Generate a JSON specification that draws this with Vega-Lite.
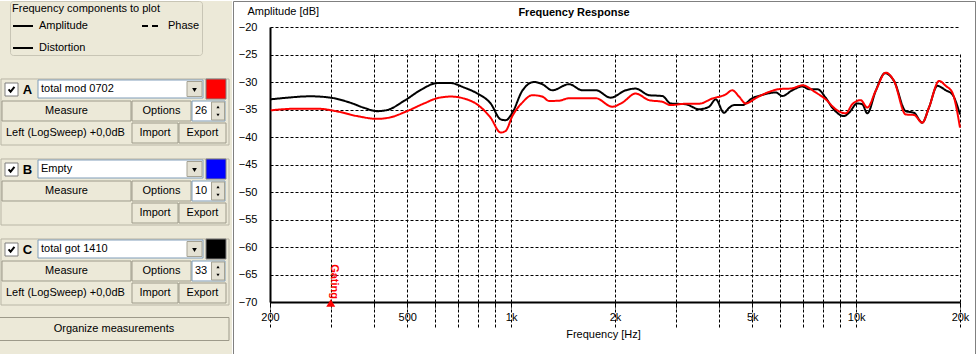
{
  "$schema": "https://vega.github.io/schema/vega-lite/v6.json",
  "padding": {"left": -3, "top": 0, "right": 0, "bottom": 0},
  "background": "#ffffff",
  "spacing": 0,
  "config": {
    "font": "Liberation Sans",
    "view": {"stroke": null},
    "text": {"font": "Liberation Sans", "fontSize": 11, "color": "#000000"}
  },
  "datasets": {
    "measurements": [
      {"id": "A", "name": "total mod 0702", "avg": "26", "channel": "Left (LogSweep) +0,0dB"},
      {"id": "B", "name": "Empty", "avg": "10", "channel": ""},
      {"id": "C", "name": "total got 1410", "avg": "33", "channel": "Left (LogSweep) +0,0dB"}
    ],
    "gating": [{"freq": 300, "db": -70, "label": "Gating"}],
    "curves": [
      {"id": "C", "freq": 201, "db": -33.15}, {"id": "C", "freq": 220, "db": -32.9}, {"id": "C", "freq": 262, "db": -32.6},
      {"id": "C", "freq": 300, "db": -32.85}, {"id": "C", "freq": 343, "db": -33.8}, {"id": "C", "freq": 375, "db": -34.7},
      {"id": "C", "freq": 409, "db": -35.3}, {"id": "C", "freq": 437, "db": -35.1}, {"id": "C", "freq": 489, "db": -33.45},
      {"id": "C", "freq": 547, "db": -31.45}, {"id": "C", "freq": 610, "db": -30.2}, {"id": "C", "freq": 668, "db": -30.2},
      {"id": "C", "freq": 730, "db": -31.0}, {"id": "C", "freq": 796, "db": -32.05}, {"id": "C", "freq": 872, "db": -33.9},
      {"id": "C", "freq": 933, "db": -36.8}, {"id": "C", "freq": 964, "db": -36.95}, {"id": "C", "freq": 1008, "db": -35.6},
      {"id": "C", "freq": 1077, "db": -31.6}, {"id": "C", "freq": 1165, "db": -30.0}, {"id": "C", "freq": 1231, "db": -30.4},
      {"id": "C", "freq": 1316, "db": -31.5}, {"id": "C", "freq": 1471, "db": -30.4}, {"id": "C", "freq": 1608, "db": -31.5},
      {"id": "C", "freq": 1759, "db": -31.5}, {"id": "C", "freq": 1943, "db": -32.85}, {"id": "C", "freq": 2148, "db": -31.5},
      {"id": "C", "freq": 2296, "db": -31.2}, {"id": "C", "freq": 2510, "db": -32.4}, {"id": "C", "freq": 2743, "db": -32.55},
      {"id": "C", "freq": 2900, "db": -33.9}, {"id": "C", "freq": 3206, "db": -34.05}, {"id": "C", "freq": 3504, "db": -34.95},
      {"id": "C", "freq": 3746, "db": -34.5}, {"id": "C", "freq": 3918, "db": -33.15}, {"id": "C", "freq": 4140, "db": -35.6},
      {"id": "C", "freq": 4281, "db": -34.7}, {"id": "C", "freq": 4425, "db": -34.2}, {"id": "C", "freq": 4678, "db": -34.2},
      {"id": "C", "freq": 5000, "db": -32.95}, {"id": "C", "freq": 5346, "db": -32.35}, {"id": "C", "freq": 5846, "db": -31.9},
      {"id": "C", "freq": 6109, "db": -32.55}, {"id": "C", "freq": 6530, "db": -31.5}, {"id": "C", "freq": 6982, "db": -30.8},
      {"id": "C", "freq": 7300, "db": -31.3}, {"id": "C", "freq": 7717, "db": -31.3}, {"id": "C", "freq": 8159, "db": -32.85},
      {"id": "C", "freq": 8528, "db": -34.65}, {"id": "C", "freq": 9222, "db": -36.2}, {"id": "C", "freq": 9534, "db": -35.6},
      {"id": "C", "freq": 10076, "db": -33.9}, {"id": "C", "freq": 10419, "db": -34.05}, {"id": "C", "freq": 10773, "db": -35.7},
      {"id": "C", "freq": 11396, "db": -31.6}, {"id": "C", "freq": 12123, "db": -28.4}, {"id": "C", "freq": 12874, "db": -29.8},
      {"id": "C", "freq": 13920, "db": -35.3}, {"id": "C", "freq": 14712, "db": -35.6}, {"id": "C", "freq": 15546, "db": -37.4},
      {"id": "C", "freq": 16258, "db": -34.65}, {"id": "C", "freq": 17192, "db": -30.7}, {"id": "C", "freq": 18183, "db": -31.5},
      {"id": "C", "freq": 18998, "db": -32.25}, {"id": "C", "freq": 20000, "db": -35.9},
      {"id": "A", "freq": 201, "db": -35.15}, {"id": "A", "freq": 240, "db": -34.85}, {"id": "A", "freq": 274, "db": -34.85},
      {"id": "A", "freq": 313, "db": -35.35}, {"id": "A", "freq": 358, "db": -36.2}, {"id": "A", "freq": 409, "db": -36.7},
      {"id": "A", "freq": 448, "db": -36.4}, {"id": "A", "freq": 499, "db": -35.3}, {"id": "A", "freq": 559, "db": -33.9},
      {"id": "A", "freq": 610, "db": -32.95}, {"id": "A", "freq": 668, "db": -32.65}, {"id": "A", "freq": 730, "db": -33.0},
      {"id": "A", "freq": 796, "db": -34.05}, {"id": "A", "freq": 872, "db": -36.5}, {"id": "A", "freq": 933, "db": -39.2},
      {"id": "A", "freq": 964, "db": -38.9}, {"id": "A", "freq": 1008, "db": -36.2}, {"id": "A", "freq": 1077, "db": -33.75},
      {"id": "A", "freq": 1152, "db": -32.4}, {"id": "A", "freq": 1231, "db": -32.65}, {"id": "A", "freq": 1288, "db": -33.45},
      {"id": "A", "freq": 1376, "db": -33.4}, {"id": "A", "freq": 1471, "db": -32.95}, {"id": "A", "freq": 1759, "db": -32.95},
      {"id": "A", "freq": 1964, "db": -34.5}, {"id": "A", "freq": 2100, "db": -33.75}, {"id": "A", "freq": 2296, "db": -32.1},
      {"id": "A", "freq": 2510, "db": -33.3}, {"id": "A", "freq": 2743, "db": -33.6}, {"id": "A", "freq": 2900, "db": -34.2},
      {"id": "A", "freq": 3206, "db": -33.95}, {"id": "A", "freq": 3504, "db": -33.95}, {"id": "A", "freq": 3829, "db": -33.0},
      {"id": "A", "freq": 4188, "db": -32.25}, {"id": "A", "freq": 4375, "db": -31.5}, {"id": "A", "freq": 4576, "db": -32.65},
      {"id": "A", "freq": 4785, "db": -33.9}, {"id": "A", "freq": 5114, "db": -32.95}, {"id": "A", "freq": 5468, "db": -32.05},
      {"id": "A", "freq": 5977, "db": -31.3}, {"id": "A", "freq": 6530, "db": -31.15}, {"id": "A", "freq": 6982, "db": -30.6},
      {"id": "A", "freq": 7634, "db": -31.9}, {"id": "A", "freq": 8159, "db": -33.15}, {"id": "A", "freq": 8724, "db": -34.95},
      {"id": "A", "freq": 9326, "db": -35.7}, {"id": "A", "freq": 9745, "db": -34.05}, {"id": "A", "freq": 10308, "db": -33.3},
      {"id": "A", "freq": 10773, "db": -34.65}, {"id": "A", "freq": 11396, "db": -31.6}, {"id": "A", "freq": 12180, "db": -28.3},
      {"id": "A", "freq": 12874, "db": -29.8}, {"id": "A", "freq": 13920, "db": -35.9}, {"id": "A", "freq": 14712, "db": -36.0},
      {"id": "A", "freq": 15546, "db": -37.4}, {"id": "A", "freq": 16258, "db": -34.65}, {"id": "A", "freq": 17390, "db": -29.8},
      {"id": "A", "freq": 18183, "db": -30.7}, {"id": "A", "freq": 18998, "db": -31.9}, {"id": "A", "freq": 20000, "db": -38.3}
    ]
  },
  "hconcat": [
    {
      "width": 233,
      "height": 354,
      "view": {"fill": "#ECE9D8", "stroke": null},
      "data": {"name": "measurements"},
      "layer": [
        {"mark": {"type": "point", "shape": "M-1,-0.2895H1V0.2895H-1Z", "size": 51984, "filled": false, "stroke": "#B9B6A6", "strokeWidth": 1, "opacity": 1, "xOffset": -0.5, "yOffset": 23},
         "encoding": {"y": {"field": "id", "type": "nominal", "scale": {"type": "point", "domain": ["A", "B", "C"], "range": [88, 248], "padding": 0}, "axis": null}}},
        {"mark": {"type": "point", "shape": "square", "size": 169, "filled": true, "fill": "#FFFFFF", "stroke": "#7F7F7F", "strokeWidth": 1, "opacity": 1, "xOffset": -104, "yOffset": 0.5},
         "encoding": {"y": {"field": "id", "type": "nominal", "axis": null}}},
        {"mark": {"type": "point", "shape": "M-0.65,-0.05L-0.2,0.5L0.65,-0.6", "size": 81, "filled": false, "stroke": "#000000", "strokeWidth": 2, "opacity": 1, "xOffset": -104, "yOffset": 0.5},
         "encoding": {"y": {"field": "id", "type": "nominal", "axis": null}}},
        {"mark": {"type": "text", "fontWeight": "bold", "fontSize": 13, "align": "center", "baseline": "middle", "dx": -88, "dy": 1},
         "encoding": {"y": {"field": "id", "type": "nominal", "axis": null}, "text": {"field": "id"}}},
        {"mark": {"type": "point", "shape": "M-1,-0.1091H1V0.1091H-1Z", "size": 27225, "filled": true, "fill": "#FFFFFF", "stroke": "#7F9DB9", "strokeWidth": 1, "opacity": 1, "xOffset": 5},
         "encoding": {"y": {"field": "id", "type": "nominal", "axis": null}}},
        {"mark": {"type": "text", "align": "left", "baseline": "middle", "dx": -74.5, "fontSize": 11},
         "encoding": {"y": {"field": "id", "type": "nominal", "axis": null}, "text": {"field": "name"}}},
        {"mark": {"type": "point", "shape": "square", "size": 225, "filled": true, "fill": "#E4E1D3", "stroke": "#A5A293", "strokeWidth": 1, "opacity": 1, "xOffset": 79},
         "encoding": {"y": {"field": "id", "type": "nominal", "axis": null}}},
        {"mark": {"type": "point", "shape": "triangle-down", "size": 22, "filled": true, "fill": "#000000", "opacity": 1, "xOffset": 79, "yOffset": 1},
         "encoding": {"y": {"field": "id", "type": "nominal", "axis": null}}},
        {"mark": {"type": "point", "shape": "square", "size": 400, "filled": true, "stroke": "#808080", "strokeWidth": 1, "opacity": 1, "xOffset": 100.5},
         "encoding": {"y": {"field": "id", "type": "nominal", "axis": null},
                      "color": {"field": "id", "type": "nominal", "scale": {"domain": ["A", "B", "C"], "range": ["#FF0000", "#0000FF", "#000000"]}, "legend": null}}},
        {"mark": {"type": "point", "shape": "M-1,-0.155H1V0.155H-1Z", "size": 16641, "filled": true, "fill": "#ECE9D8", "stroke": "#9D9A8A", "strokeWidth": 1, "opacity": 1, "xOffset": -49, "yOffset": 22},
         "encoding": {"y": {"field": "id", "type": "nominal", "axis": null}}},
        {"mark": {"type": "text", "text": "Measure", "align": "center", "baseline": "middle", "dx": -49, "dy": 22},
         "encoding": {"y": {"field": "id", "type": "nominal", "axis": null}}},
        {"mark": {"type": "point", "shape": "M-1,-0.339H1V0.339H-1Z", "size": 3481, "filled": true, "fill": "#ECE9D8", "stroke": "#9D9A8A", "strokeWidth": 1, "opacity": 1, "xOffset": 46, "yOffset": 22},
         "encoding": {"y": {"field": "id", "type": "nominal", "axis": null}}},
        {"mark": {"type": "text", "text": "Options", "align": "center", "baseline": "middle", "dx": 46, "dy": 22},
         "encoding": {"y": {"field": "id", "type": "nominal", "axis": null}}},
        {"mark": {"type": "point", "shape": "M-1,-0.606H1V0.606H-1Z", "size": 1089, "filled": true, "fill": "#FFFFFF", "stroke": "#7F9DB9", "strokeWidth": 1, "opacity": 1, "xOffset": 93, "yOffset": 22},
         "encoding": {"y": {"field": "id", "type": "nominal", "axis": null}}},
        {"mark": {"type": "text", "align": "left", "baseline": "middle", "dx": 79.5, "dy": 22},
         "encoding": {"y": {"field": "id", "type": "nominal", "axis": null}, "text": {"field": "avg"}}},
        {"mark": {"type": "point", "shape": "M-1,-1.385H1V1.385H-1Z", "size": 169, "filled": true, "fill": "#E4E1D3", "stroke": "#A5A293", "strokeWidth": 1, "opacity": 1, "xOffset": 102.5, "yOffset": 22},
         "encoding": {"y": {"field": "id", "type": "nominal", "axis": null}}},
        {"mark": {"type": "point", "shape": "triangle-up", "size": 10, "filled": true, "fill": "#000000", "opacity": 1, "xOffset": 102.5, "yOffset": 18},
         "encoding": {"y": {"field": "id", "type": "nominal", "axis": null}}},
        {"mark": {"type": "point", "shape": "triangle-down", "size": 10, "filled": true, "fill": "#000000", "opacity": 1, "xOffset": 102.5, "yOffset": 26},
         "encoding": {"y": {"field": "id", "type": "nominal", "axis": null}}},
        {"mark": {"type": "text", "align": "left", "baseline": "middle", "dx": -109.5, "dy": 44},
         "encoding": {"y": {"field": "id", "type": "nominal", "axis": null}, "text": {"field": "channel"}}},
        {"mark": {"type": "point", "shape": "M-1,-0.4348H1V0.4348H-1Z", "size": 2116, "filled": true, "fill": "#ECE9D8", "stroke": "#9D9A8A", "strokeWidth": 1, "opacity": 1, "xOffset": 39.5, "yOffset": 44},
         "encoding": {"y": {"field": "id", "type": "nominal", "axis": null}}},
        {"mark": {"type": "text", "text": "Import", "align": "center", "baseline": "middle", "dx": 39.5, "dy": 44},
         "encoding": {"y": {"field": "id", "type": "nominal", "axis": null}}},
        {"mark": {"type": "point", "shape": "M-1,-0.4255H1V0.4255H-1Z", "size": 2209, "filled": true, "fill": "#ECE9D8", "stroke": "#9D9A8A", "strokeWidth": 1, "opacity": 1, "xOffset": 87, "yOffset": 44},
         "encoding": {"y": {"field": "id", "type": "nominal", "axis": null}}},
        {"mark": {"type": "text", "text": "Export", "align": "center", "baseline": "middle", "dx": 87, "dy": 44},
         "encoding": {"y": {"field": "id", "type": "nominal", "axis": null}}},
        {"data": {"values": [{"action": "Organize measurements"}]},
         "mark": {"type": "point", "shape": "M-1,-0.1H1V0.1H-1Z", "size": 52900, "filled": true, "fill": "#ECE9D8", "stroke": "#9D9A8A", "strokeWidth": 1, "opacity": 1, "xOffset": -1.5, "yOffset": 151},
         "encoding": {}},
        {"data": {"values": [{"action": "Organize measurements"}]},
         "mark": {"type": "text", "align": "center", "baseline": "middle", "dx": -1.5, "dy": 151},
         "encoding": {"text": {"field": "action"}}}
      ]
    },
    {
      "width": 742,
      "height": 354,
      "view": {"fill": "#FFFFFF", "stroke": "#808080"},
      "title": {"text": "Frequency Response", "font": "Liberation Sans", "fontSize": 11, "fontWeight": "bold", "color": "#000000", "anchor": "middle", "frame": "group", "offset": -26, "baseline": "alphabetic", "dx": -30},
      "encoding": {
        "x": {"field": "freq", "type": "quantitative",
              "scale": {"type": "log", "domain": [200, 20000], "range": [37, 727], "nice": false},
              "axis": {"orient": "bottom", "offset": -53,
                       "values": [200, 300, 400, 500, 600, 700, 800, 900, 1000, 2000, 3000, 4000, 5000, 6000, 7000, 8000, 9000, 10000, 20000],
                       "labelExpr": "(datum.value == 200 || datum.value == 500) ? datum.value + '' : (datum.value == 1000 || datum.value == 2000 || datum.value == 5000 || datum.value == 10000 || datum.value == 20000) ? (datum.value / 1000) + 'k' : ''",
                       "grid": true, "gridDash": [3, 2], "gridColor": "#000000", "gridOpacity": 1, "gridWidth": 1,
                       "domain": true, "domainColor": "#000000", "domainWidth": 2,
                       "ticks": true, "tickSize": 6, "tickDash": [3, 2], "tickColor": "#000000", "tickWidth": 1,
                       "labelPadding": 3, "labelFont": "Liberation Sans", "labelFontSize": 11, "labelColor": "#000000", "labelFlush": false, "labelOverlap": false,
                       "title": "Frequency [Hz]", "titleX": 370, "titleY": 35, "titleBaseline": "alphabetic", "titleAlign": "center",
                       "titleFont": "Liberation Sans", "titleFontSize": 11, "titleFontWeight": "normal", "titleColor": "#000000"}},
        "y": {"field": "db", "type": "quantitative",
              "scale": {"domain": [-70, -20], "range": [301, 26], "nice": false, "zero": false},
              "axis": {"orient": "left", "offset": -37,
                       "values": [-70, -65, -60, -55, -50, -45, -40, -35, -30, -25, -20],
                       "grid": true, "gridDash": [3, 2], "gridColor": "#000000", "gridOpacity": 1, "gridWidth": 1,
                       "domain": true, "domainColor": "#000000", "domainWidth": 2,
                       "ticks": false, "labelPadding": 13,
                       "labelFont": "Liberation Sans", "labelFontSize": 11, "labelColor": "#000000", "labelFlush": false,
                       "title": "Amplitude [dB]", "titleAngle": 0, "titleAlign": "left", "titleBaseline": "alphabetic", "titleX": -23, "titleY": 13,
                       "titleFont": "Liberation Sans", "titleFontSize": 11, "titleFontWeight": "normal", "titleColor": "#000000"}}
      },
      "layer": [
        {"data": {"name": "curves"},
         "transform": [{"filter": "datum.id == 'C'"}],
         "mark": {"type": "line", "strokeWidth": 2, "interpolate": "monotone"},
         "encoding": {
           "color": {"field": "id", "type": "nominal", "scale": {"domain": ["A", "B", "C"], "range": ["#FF0000", "#0000FF", "#000000"]}, "legend": null},
           "strokeDash": {"datum": "Amplitude", "type": "nominal",
                          "scale": {"domain": ["Amplitude", "Distortion", "Phase"], "range": [[1, 0], [1, 0], [6, 4]]},
                          "legend": {"title": "Frequency components to plot", "orient": "none", "legendX": 11, "legendY": 0, "columns": 2,
                                     "symbolType": "stroke", "symbolSize": 400, "symbolStrokeWidth": 2, "symbolStrokeColor": "#000000",
                                     "labelFont": "Liberation Sans", "labelFontSize": 11, "labelColor": "#000000", "labelOffset": 5,
                                     "titleFont": "Liberation Sans", "titleFontSize": 11, "titleFontWeight": "normal", "titleColor": "#000000", "titlePadding": 1,
                                     "padding": 2, "rowPadding": 6, "columnPadding": 50,
                                     "fillColor": "#ECE9D8", "strokeColor": "#C8C5B5", "cornerRadius": 3}}
         }},
        {"data": {"name": "curves"},
         "transform": [{"filter": "datum.id == 'A'"}],
         "mark": {"type": "line", "strokeWidth": 2, "interpolate": "monotone"},
         "encoding": {
           "color": {"field": "id", "type": "nominal", "scale": {"domain": ["A", "B", "C"], "range": ["#FF0000", "#0000FF", "#000000"]}, "legend": null},
           "strokeDash": {"datum": "Amplitude", "type": "nominal"}
         }},
        {"data": {"name": "gating"},
         "mark": {"type": "point", "shape": "triangle-up", "filled": true, "size": 80, "color": "#FF0000", "opacity": 1, "yOffset": 1}},
        {"data": {"name": "gating"},
         "mark": {"type": "text", "angle": 90, "align": "right", "baseline": "alphabetic", "dx": -3, "fontWeight": "bold", "fontSize": 11, "color": "#FF0000"},
         "encoding": {"text": {"field": "label"}}}
      ]
    }
  ],
  "resolve": {"scale": {"x": "independent", "y": "independent"}}
}
